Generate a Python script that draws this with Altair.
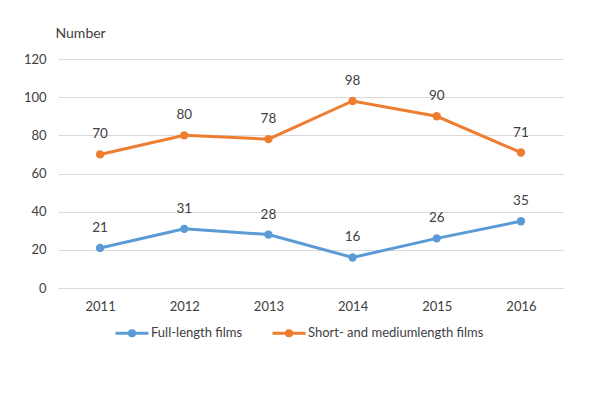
import altair as alt
import pandas as pd

years = ["2011", "2012", "2013", "2014", "2015", "2016"]
full_length = [21, 31, 28, 16, 26, 35]
short_medium = [70, 80, 78, 98, 90, 71]
series_names = ["Full-length films", "Short- and mediumlength films"]
colors = ["#5B9BD5", "#ED7D31"]
y_ticks = [0, 20, 40, 60, 80, 100, 120]

rows = []
for y, v in zip(years, full_length):
    rows.append({"year": y, "value": v, "series": series_names[0]})
for y, v in zip(years, short_medium):
    rows.append({"year": y, "value": v, "series": series_names[1]})
df = pd.DataFrame(rows)

FONT = "Lato"
TXT = "#404040"

r1, r2 = 0.155, 0.05
sym_path = (f"M-1,0L1,0"
            f"M{r1},0A{r1},{r1},0,1,1,{-r1},0A{r1},{r1},0,1,1,{r1},0"
            f"M{r2},0A{r2},{r2},0,1,1,{-r2},0A{r2},{r2},0,1,1,{r2},0")

x = alt.X("year:N", title=None, sort=years,
          scale=alt.Scale(paddingInner=0, paddingOuter=0.5),
          axis=alt.Axis(labelAngle=0, ticks=False, domainColor="#D9D9D9",
                        labelPadding=12, labelFontSize=13, labelColor=TXT,
                        labelFont=FONT, grid=False))
y = alt.Y("value:Q", title="Number",
          scale=alt.Scale(domain=[0, 120]),
          axis=alt.Axis(values=y_ticks, domain=False, ticks=False, labelPadding=12,
                        labelFontSize=13, labelColor=TXT, labelFont=FONT,
                        gridColor="#D9D9D9", gridWidth=1,
                        titleAngle=0, titleAlign="left", titleBaseline="middle",
                        titleX=-3, titleY=-26, titleFont=FONT, titleFontSize=14,
                        titleFontWeight="normal", titleColor=TXT))

legend = alt.Legend(orient="none", direction="horizontal",
                    legendX=56, legendY=256,
                    symbolType=sym_path, symbolSize=1089,
                    symbolStrokeWidth=3, labelFont=FONT,
                    labelFontSize=13, labelColor=TXT, labelLimit=400,
                    labelOffset=1, columnPadding=23, symbolOpacity=1)

color = alt.Color("series:N", title=None,
                  scale=alt.Scale(domain=series_names, range=colors),
                  legend=legend)

base = alt.Chart(df)
lines = base.mark_line(strokeWidth=3).encode(x=x, y=y, color=color)
points = base.mark_circle(size=70, opacity=1).encode(x=x, y=y, color=color)
labels = base.mark_text(dy=-20, fontSize=13.5, font=FONT, color=TXT).encode(
    x=x, y=y, text="value:Q")

chart = alt.layer(lines, points, labels).properties(
    width=505, height=229,
    autosize=alt.AutoSizeParams(type="none"),
    padding={"left": 50, "top": 51, "right": 29, "bottom": 99},
    background="white",
).configure_view(stroke=None)

chart.save("out.html", embed_options={"renderer": "svg", "actions": False})
